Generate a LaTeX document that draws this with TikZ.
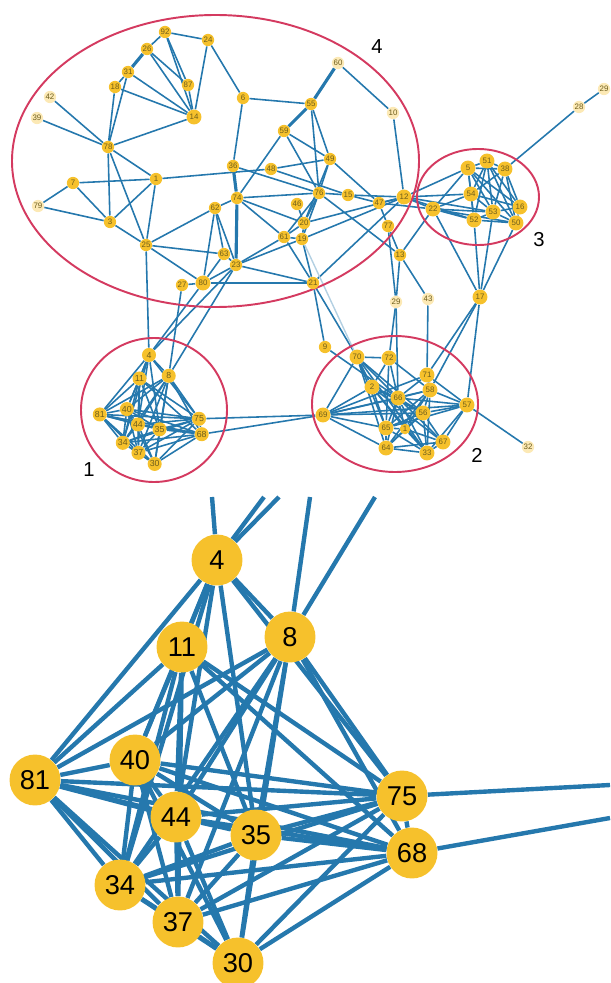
\documentclass[tikz,border=0pt]{standalone}
\usepackage{fontspec}
\setmainfont{Liberation Sans}
\definecolor{hubyellow}{HTML}{F6C12C}
\definecolor{linkblue}{HTML}{2578AD}
\definecolor{ringred}{HTML}{D43A60}
\definecolor{labelolive}{HTML}{6E5E1C}
\pgfdeclarelayer{edges}
\pgfsetlayers{edges,main}
\tikzset{
  hubnode/.style={circle, fill=hubyellow, inner sep=0pt, minimum size=7pt, text=labelolive, font=\fontsize{4.5}{5}\selectfont},
  majornode/.style={hubnode, minimum size=8.5pt},
  leafnode/.style={hubnode, fill=hubyellow!35},
  edgeline/.style={draw=linkblue, line width=0.9pt},
  heavyedge/.style={edgeline, line width=1.8pt},
  paleedge/.style={draw=linkblue!35, line width=0.8pt},
  ringline/.style={draw=ringred, line width=1.1pt},
  ringlabel/.style={font=\fontsize{11.5}{12}\selectfont},
  bignode/.style={circle, fill=hubyellow, inner sep=0pt, minimum size=29pt, font=\fontsize{15.5}{16}\selectfont},
  bigedge/.style={draw=linkblue, line width=2.5pt}
}
\def\clusteronenodes{4/217/560, 11/182/647, 8/290/637, 40/135/760, 81/35/780, 44/176/817, 35/256/835, 75/402/796, 68/412/853, 34/120/885, 37/178/922, 30/238/963}
\def\clusteroneedges{4/11, 4/8, 4/81, 4/40, 4/44, 4/35, 4/75, 4/34,
  11/81, 11/40, 11/44, 11/35, 11/34, 11/37, 11/75, 11/68,
  8/40, 8/44, 8/35, 8/34, 8/37, 8/30, 8/75, 8/68, 8/81,
  81/40, 81/44, 81/34, 81/37, 81/35, 81/30, 81/75, 81/68,
  40/44, 40/35, 40/34, 40/37, 40/75, 40/68, 40/30,
  44/35, 44/34, 44/37, 44/30, 44/75, 44/68,
  35/34, 35/37, 35/30, 35/75, 35/68,
  75/68, 75/34, 75/37, 75/30, 68/34, 68/37, 68/30, 34/37, 34/30, 37/30}
\newcommand{\drawclusterone}{%
  \foreach \n/\x/\y in \clusteronenodes
    \node[member] (\n) at (\x,\y) {\n};
  \begin{pgfonlayer}{edges}
    \foreach \a/\b in \clusteroneedges
      \draw[memberlink] (\a) -- (\b);
  \end{pgfonlayer}
}
\def\topnodes{92/165/32, 26/147/49, 31/128/72, 18/115/87, 87/188/85, 24/208/40, 78/108/147, 6/243/98, 55/311/104, 59/284/131, 49/330/159, 7/73/183, 1/156/179, 3/110/222, 25/146/245, 27/182/285, 36/233/166, 48/271/169, 74/237/198, 62/215/208, 76/319/193, 15/348/195, 47/379/203, 46/297/204, 20/304/223, 61/284/237, 19/302/239, 77/388/226, 63/224/254, 23/236/265, 13/400/255, 21/313/283, 9/325/347}
\def\majornodes{14/194/117, 80/203/283, 12/404/197, 5/468/168, 51/487/161, 38/505/169, 54/471/194, 22/433/209, 53/493/212, 16/520/207, 52/474/220, 50/516/223, 17/480/297, 70/357/357, 72/389/358, 71/427/375, 58/430/390, 2/372/387, 66/398/398, 57/467/405, 56/423/413, 69/323/415, 65/386/428, 64/386/448, 33/427/453, 67/443/442}
\def\leafnodes{42/50/97, 39/37/118, 79/38/206, 60/338/63, 10/393/113, 28/579/107, 29/396/302, 43/428/299, 32/528/447}
\def\ringfouredges{92/26, 92/24, 92/87, 92/14, 26/14, 26/87, 31/18, 31/78, 31/14, 18/78, 18/14, 87/14, 24/14, 24/6,
  42/78, 39/78, 14/78, 78/1, 78/3, 78/25, 7/1, 7/79, 7/3, 79/3, 1/3, 1/25, 1/48, 3/25, 25/80, 25/62, 25/63,
  6/55, 6/36, 60/10, 55/49, 55/76, 59/49, 59/76, 59/74, 10/12, 36/76, 48/15, 48/49, 49/76, 49/47, 49/20,
  74/76, 74/62, 74/61, 74/20, 62/63, 62/23, 62/80, 76/20, 76/19, 76/15, 76/13, 76/61, 15/47, 15/12, 47/12, 47/22, 47/77,
  46/20, 20/19, 20/61, 20/12, 19/61, 19/21, 19/23, 19/12, 61/21, 61/23, 63/23, 63/80, 23/80, 23/21, 80/21, 80/27,
  21/12, 21/9, 21/70, 77/13, 77/29, 13/22, 13/29, 13/43}
\def\ringthreeedges{5/51, 5/38, 5/54, 5/22, 5/53, 5/52, 5/16, 5/50, 51/38, 51/54, 51/53, 51/16, 51/50, 51/52,
  38/54, 38/53, 38/16, 38/50, 54/22, 54/53, 54/52, 54/16, 22/52, 22/53, 22/50, 53/16, 53/52, 53/50, 16/50, 52/50,
  12/22, 12/5, 12/54, 12/53, 12/52, 38/28, 28/29b, 17/52, 17/53, 17/50, 17/22, 17/71, 17/58, 17/57, 43/71, 29/72, 29/66}
\def\ringtwoedges{70/72, 70/2, 70/66, 70/65, 70/56, 70/69, 70/64, 70/33, 72/2, 72/66, 72/58, 72/65,
  71/58, 71/66, 71/57, 71/69, 58/66, 58/56, 58/57, 58/65, 58/33, 58/64, 2/66, 2/65, 2/56, 2/33, 2/67,
  66/56, 66/65, 66/64, 66/33, 66/67, 66/57, 57/56, 57/67, 57/33, 57/65, 56/65, 56/64, 56/33, 56/67,
  69/2, 69/66, 69/58, 69/57, 69/65, 69/64, 69/56, 65/64, 65/33, 64/33, 64/67, 33/67, 57/32, 9/66,
  1b/58, 1b/2, 1b/66, 1b/65, 1b/56, 1b/64, 1b/33, 1b/67}

\begin{document}
\begin{tikzpicture}[x=0.02cm, y=-0.02cm]
  \useasboundingbox (0,0) rectangle (610,983);

  \draw[ringline] (215.5,161) ellipse [x radius=203.5, y radius=146];
  \draw[ringline] (478,197) ellipse [x radius=61, y radius=48];
  \draw[ringline] (395,404) ellipse [x radius=83, y radius=68];
  \draw[ringline] (154,410) ellipse [x radius=73, y radius=72];
  \node[ringlabel] (tag4) at (377,47) {4};
  \node[ringlabel] (tag3) at (539,240) {3};
  \node[ringlabel] (tag2) at (477,455) {2};
  \node[ringlabel] (tag1) at (89,470) {1};

  \foreach \n/\x/\y in \topnodes
    \node[hubnode] (n\n) at (\x,\y) {\n};
  \foreach \n/\x/\y in \majornodes
    \node[majornode] (n\n) at (\x,\y) {\n};
  \foreach \n/\x/\y in \leafnodes
    \node[leafnode] (n\n) at (\x,\y) {\n};
  \node[leafnode] (n29b) at (604,89) {29};
  \node[hubnode, minimum size=6pt] (n1b) at (405,429) {1};

  \begin{scope}[shift={(149,355)}, scale=1/3.7, shift={(-217,-560)}, name prefix=s-,
      member/.style={hubnode, minimum size=8pt, font=\fontsize{5}{5}\selectfont},
      memberlink/.style={edgeline}]
    \drawclusterone
  \end{scope}

  \begin{scope}[name prefix=b-, member/.style={bignode}, memberlink/.style={bigedge}]
    \drawclusterone
  \end{scope}
  \coordinate (to25) at (212,497);
  \coordinate (to80) at (264,497);
  \coordinate (to23a) at (279,497);
  \coordinate (to27) at (310,497);
  \coordinate (to23b) at (375,497);
  \coordinate (to69a) at (610,785);
  \coordinate (to69b) at (610,818);

  \begin{pgfonlayer}{edges}
    \foreach \a/\b in \ringfouredges
      \draw[edgeline] (n\a) -- (n\b);
    \foreach \a/\b in \ringthreeedges
      \draw[edgeline] (n\a) -- (n\b);
    \foreach \a/\b in \ringtwoedges
      \draw[edgeline] (n\a) -- (n\b);
    \foreach \a/\b in {26/31, 60/55, 55/59, 36/74, 74/23}
      \draw[heavyedge] (n\a) -- (n\b);
    \draw[paleedge] (n19) -- (n70);
    \draw[edgeline] (s-4) -- (n25);
    \draw[edgeline] (s-4) -- (n80);
    \draw[edgeline] (s-4) -- (n23);
    \draw[edgeline] (s-8) -- (n27);
    \draw[edgeline] (s-8) -- (n23);
    \draw[edgeline] (n69) -- (s-75);
    \draw[edgeline] (n69) -- (s-68);
    \draw[bigedge] (b-4) -- (to25);
    \draw[bigedge] (b-4) -- (to80);
    \draw[bigedge] (b-4) -- (to23a);
    \draw[bigedge] (b-8) -- (to27);
    \draw[bigedge] (b-8) -- (to23b);
    \draw[bigedge] (b-75) -- (to69a);
    \draw[bigedge] (b-68) -- (to69b);
  \end{pgfonlayer}
\end{tikzpicture}
\end{document}
